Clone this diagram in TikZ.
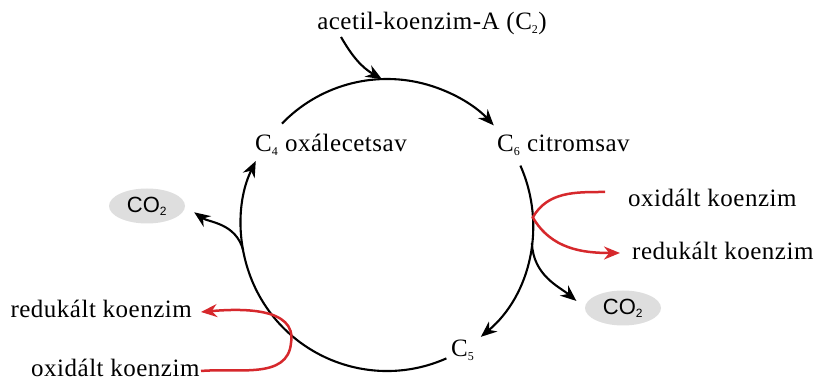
\documentclass[tikz,border=0pt]{standalone}
\usepackage{fontspec}
\setmainfont{Liberation Serif}[LetterSpace=2]
\newfontfamily\cofont{Liberation Sans}
\newcommand{\subn}[1]{\textsubscript{\fontsize{12}{12}\selectfont #1}}
\usetikzlibrary{arrows.meta,shapes.geometric,calc}
\definecolor{redc}{HTML}{D6282C}
\definecolor{cogray}{HTML}{DEDEDE}
\begin{document}
\begin{tikzpicture}[x=1pt,y=1pt,
  lbl/.style={inner sep=0pt, font=\fontsize{25}{29}\selectfont},
  co/.style={ellipse, fill=cogray, inner sep=0pt, minimum width=76pt, minimum height=35pt, font=\cofont\fontsize{22}{24}\selectfont},
  blk/.style={line width=2.1pt, -{Stealth[length=16pt,width=13pt]}},
  rd/.style={line width=2.5pt, draw=redc, -{Stealth[length=16pt,width=13pt]}}
]
\useasboundingbox (0,0) rectangle (815,385);
\coordinate (c) at (387,160);
% labels
\node[lbl, anchor=base] (acetil) at (432,355) {acetil-koenzim-A (C\subn{2})};
\node[lbl, anchor=base west] (c4) at (255,233) {C\subn{4} oxálecetsav};
\node[lbl, anchor=base west] (c6) at (497,233) {C\subn{6} citromsav};
\node[lbl, anchor=base west] (c5) at (451,28) {C\subn{5}};
\node[lbl, anchor=base west] (oxR) at (628,178) {oxidált koenzim};
\node[lbl, anchor=base west] (redR) at (632,125) {redukált koenzim};
\node[lbl, anchor=base east] (redL) at (192,67) {redukált koenzim};
\node[lbl, anchor=base west] (oxL) at (31,8) {oxidált koenzim};
\node[co] (co2L) at (147,179) {CO\subn{2}};
\node[co] (co2R) at (623,77) {CO\subn{2}};
% points on the cycle
\coordinate (a1s) at ($(c)+(136:146)$);
\coordinate (top) at ($(c)+(92:146)$);
\coordinate (a2s) at ($(c)+(24:146)$);
\coordinate (brR) at ($(c)+(-7:146)$);
\coordinate (touchR) at ($(c)+(3:146)$);
\coordinate (a3s) at ($(c)+(-66:146)$);
\coordinate (brL) at ($(c)+(190:146)$);
\coordinate (apexL) at (291,42);
\coordinate (oxRend) at (605,193);
\coordinate (oxLend) at (201,14);
\coordinate (redRtip) at (620,132);
\coordinate (redLtip) at (201,73);
% cycle arcs
\draw[blk] (a1s) arc[start angle=136, end angle=43, radius=146];
\draw[blk] (a2s) arc[start angle=24, end angle=-50, radius=146];
\draw[blk] (a3s) arc[start angle=-66, end angle=-206, radius=146];
% acetyl input
\draw[blk] (341,348) to[out=-60,in=150] (top);
% CO2 branches
\draw[blk, shorten >=11pt] (brL) to[out=105,in=-35] (co2L.east);
\draw[blk, shorten >=11pt] (brR) to[out=-88,in=140] (co2R.west);
% coenzyme arrows
\draw[rd] (oxRend) to[out=180,in=60] (touchR) to[out=-60,in=180] (redRtip);
\draw[rd] (oxLend) to[out=5,in=-95] (apexL) to[out=80,in=5] (redLtip);
\end{tikzpicture}
\end{document}
